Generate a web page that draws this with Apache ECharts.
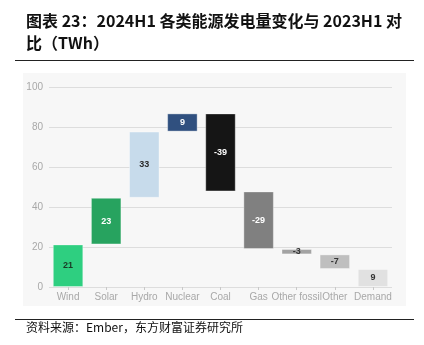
<!DOCTYPE html>
<html>
<head>
<meta charset="utf-8">
<script src="https://cdn.jsdelivr.net/npm/echarts@6/dist/echarts.min.js"></script>
<style>
html,body{margin:0;padding:0;background:#fff;}
#c{width:424px;height:345px;}
</style>
</head>
<body>
<div id="c"></div>
<script>
// Data
const categories = ['Wind', 'Solar', 'Hydro', 'Nuclear', 'Coal', 'Gas', 'Other fossil', 'Other', 'Demand'];
const changes = [21.3, 23.3, 33.1, 9.1, -39.0, -28.8, -2.7, -7.3, 9.0];   // TWh change vs 2023H1
const isTotal = [false, false, false, false, false, false, false, false, true];
const barColors = ['#2ecf80', '#27a35f', '#c7dbeb', '#30507f', '#151515', '#808080', '#a3a3a3', '#bfbfbf', '#e1e1e1'];
const labelColors = ['#1b3a26', '#ffffff', '#2a2a2a', '#ffffff', '#ffffff', '#ffffff', '#333333', '#333333', '#333333'];
const yTicks = [0, 20, 40, 60, 80, 100];

// Waterfall: transparent base + visible span
const base = [], span = [];
let run = 0;
for (let i = 0; i < changes.length; i++) {
  if (isTotal[i]) { base.push(0); span.push(changes[i]); continue; }
  const next = run + changes[i];
  base.push(Math.min(run, next));
  span.push(Math.abs(changes[i]));
  run = next;
}

const chart = echarts.init(document.getElementById('c'), null, {renderer: 'canvas'});
chart.setOption({
  animation: false,
  backgroundColor: '#ffffff',
  graphic: [
    {type: 'rect', z: -10, shape: {x: 23, y: 73, width: 383, height: 233}, style: {fill: '#f7f7f7'}},
    {type: 'text', left: 26, top: 13, style: {text: '图表 23：2024H1 各类能源发电量变化与 2023H1 对', font: 'bold 16px "Noto Sans CJK SC"', fill: '#111'}},
    {type: 'text', left: 26, top: 35, style: {text: '比（TWh）', font: 'bold 16px "Noto Sans CJK SC"', fill: '#111'}},
    {type: 'line', shape: {x1: 15, y1: 60.5, x2: 414, y2: 60.5}, style: {stroke: '#222', lineWidth: 1}},
    {type: 'line', shape: {x1: 15, y1: 319.5, x2: 414, y2: 319.5}, style: {stroke: '#222', lineWidth: 1}},
    {type: 'text', left: 26, top: 321, style: {text: '资料来源：Ember，东方财富证券研究所', font: '12px "Noto Sans CJK SC"', fill: '#111'}}
  ],
  grid: {left: 49, right: 32, top: 87, bottom: 58, containLabel: false},
  xAxis: {
    type: 'category',
    data: categories,
    axisLine: {show: false},
    axisTick: {show: true, alignWithLabel: true, length: 3, lineStyle: {color: '#c8c8c8'}},
    axisLabel: {color: '#a8a8a8', fontSize: 10, fontFamily: 'Liberation Sans', margin: 5, interval: 0}
  },
  yAxis: {
    type: 'value',
    min: 0, max: 100, interval: 20,
    axisLine: {show: false},
    axisTick: {show: false},
    splitLine: {lineStyle: {color: '#dddddd', width: 1}},
    axisLabel: {color: '#a8a8a8', fontSize: 10, fontFamily: 'Liberation Sans', margin: 6}
  },
  series: [
    {
      type: 'bar', stack: 'w', data: base, barWidth: '80%',
      itemStyle: {color: 'transparent'}, silent: true
    },
    {
      type: 'bar', stack: 'w', barWidth: '80%',
      data: span.map((v, i) => ({
        value: v,
        itemStyle: {color: barColors[i], borderColor: 'rgba(255,255,255,0.35)', borderWidth: 1},
        label: {color: labelColors[i]}
      })),
      label: {
        show: true, position: 'inside', fontSize: 9, fontWeight: 'bold', fontFamily: 'Liberation Sans',
        formatter: p => String(Math.round(changes[p.dataIndex]))
      }
    }
  ]
});
</script>
</body>
</html>
